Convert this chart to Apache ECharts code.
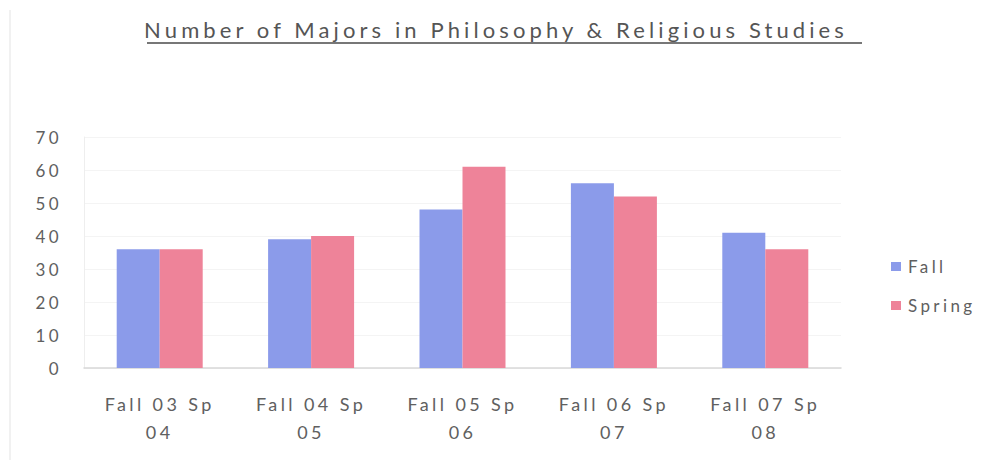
<!DOCTYPE html>
<html>
<head>
<meta charset="utf-8">
<script src="https://cdn.jsdelivr.net/npm/echarts@6/dist/echarts.min.js"></script>
<style>
  html, body { margin: 0; padding: 0; background: #fff; }
  #chart { width: 992px; height: 463px; }
  #chart svg text { letter-spacing: 3.4px; }
  #chart svg text[style*="22px"] { letter-spacing: 4.1px; }
</style>
</head>
<body>
<div id="chart"></div>
<script>
const titleText = 'Number of Majors in Philosophy & Religious Studies';
const categories = ['Fall 03 Sp\n04', 'Fall 04 Sp\n05', 'Fall 05 Sp\n06', 'Fall 06 Sp\n07', 'Fall 07 Sp\n08'];
const fallValues = [36, 39, 48, 56, 41];
const springValues = [36, 40, 61, 52, 36];
const yTicks = { min: 0, max: 70, interval: 10 };

const chart = echarts.init(document.getElementById('chart'), null, { renderer: 'svg' });
const textColor = '#606060';
const font = 'Lato, "Open Sans", sans-serif';

chart.setOption({
  backgroundColor: '#fff',
  animation: false,
  title: {
    text: titleText,
    left: 'center',
    top: 13,
    textStyle: { color: '#555', fontSize: 22, fontWeight: 'normal', fontFamily: font }
  },
  graphic: [
    { type: 'line', shape: { x1: 147, y1: 43, x2: 862, y2: 43 }, style: { stroke: '#777', lineWidth: 2 } },
    { type: 'line', shape: { x1: 10, y1: 10, x2: 10, y2: 460 }, style: { stroke: '#ececec', lineWidth: 1.5 } }
  ],
  legend: {
    orient: 'vertical',
    left: 886,
    top: 253,
    itemWidth: 10,
    itemHeight: 9,
    itemGap: 22,
    icon: 'rect',
    textStyle: { color: textColor, fontSize: 17, fontFamily: font, padding: [0, 0, 0, 2] },
    data: ['Fall', 'Spring']
  },
  grid: { left: 84, right: 151, top: 137, bottom: 95 },
  xAxis: {
    type: 'category',
    data: categories,
    axisLine: { lineStyle: { color: '#d8d8d8', width: 1.5 } },
    axisTick: { show: false },
    axisLabel: { color: textColor, fontSize: 18, fontFamily: font, lineHeight: 28, margin: 22, interval: 0 }
  },
  yAxis: {
    type: 'value',
    min: yTicks.min,
    max: yTicks.max,
    interval: yTicks.interval,
    axisLine: { show: true, lineStyle: { color: '#eeeeee' } },
    axisTick: { show: false },
    splitLine: { lineStyle: { color: '#f4f4f4' } },
    axisLabel: { color: textColor, fontSize: 17, fontFamily: font, margin: 22 }
  },
  series: [
    { name: 'Fall', type: 'bar', data: fallValues, barWidth: 43, barGap: '0%', itemStyle: { color: '#8b9bea' } },
    { name: 'Spring', type: 'bar', data: springValues, barWidth: 43, itemStyle: { color: '#ee8399' } }
  ]
});
</script>
</body>
</html>
